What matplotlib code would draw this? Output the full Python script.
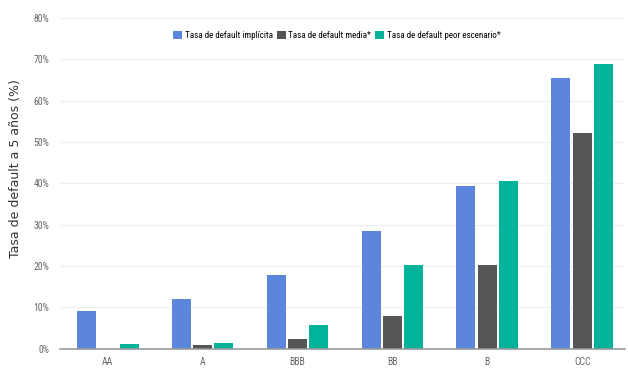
import matplotlib

matplotlib.use("Agg")
import matplotlib.pyplot as plt  # noqa: E402
import numpy as np  # noqa: E402
from matplotlib.ticker import PercentFormatter  # noqa: E402

categories = ["AA", "A", "BBB", "BB", "B", "CCC"]
implicita = [9.1, 12.0, 17.8, 28.5, 39.4, 65.4]
media = [0.0, 0.9, 2.3, 7.9, 20.3, 52.1]
peor = [1.1, 1.3, 5.7, 20.3, 40.6, 69.0]

_BLUE = "#5b86db"
_GRAY = "#555555"
_GREEN = "#00b39a"
_NARROW = ["Liberation Sans Narrow", "Roboto Condensed", "DejaVu Sans"]

fig, ax = plt.subplots(figsize=(6.28, 3.69), dpi=100)
fig.subplots_adjust(left=0.096, right=0.995, top=0.951, bottom=0.055)

x = np.arange(len(categories))
w = 0.2
off = 0.225
ax.bar(x - off, implicita, w, color=_BLUE, label="Tasa de default implícita")
ax.bar(x, media, w, color=_GRAY, label="Tasa de default media*")
ax.bar(x + off, peor, w, color=_GREEN, label="Tasa de default peor escenario*")

ax.set_ylim(0, 80)
ax.set_xlim(-0.5, 5.45)
ax.set_yticks(range(0, 81, 10))
ax.yaxis.set_major_formatter(PercentFormatter(decimals=0))
ax.set_xticks(x)
ax.set_xticklabels(categories)
for lbl in ax.get_xticklabels() + ax.get_yticklabels():
    lbl.set_family(_NARROW)
    lbl.set_fontsize(7)
    lbl.set_color("#666666")
ax.tick_params(length=0, pad=8)
ax.tick_params(axis="x", pad=6)

ax.grid(True, axis="y", color="#eeeeee", linewidth=0.8)
ax.set_axisbelow(True)
for side in ("top", "right", "left"):
    ax.spines[side].set_visible(False)
ax.spines["bottom"].set_color("#999999")
ax.spines["bottom"].set_linewidth(1.2)

ax.set_ylabel("Tasa de default a 5 años (%)", fontsize=9, color="#333333")
ax.yaxis.set_label_coords(-0.068, 0.545)

ax.legend(loc="upper center", bbox_to_anchor=(0.49, 0.985), ncol=3, frameon=False,
          prop={"family": _NARROW, "size": 6.5}, handlelength=1.0,
          handleheight=1.0, handletextpad=0.3, columnspacing=0.4)

fig.savefig("out.png", facecolor="white")
